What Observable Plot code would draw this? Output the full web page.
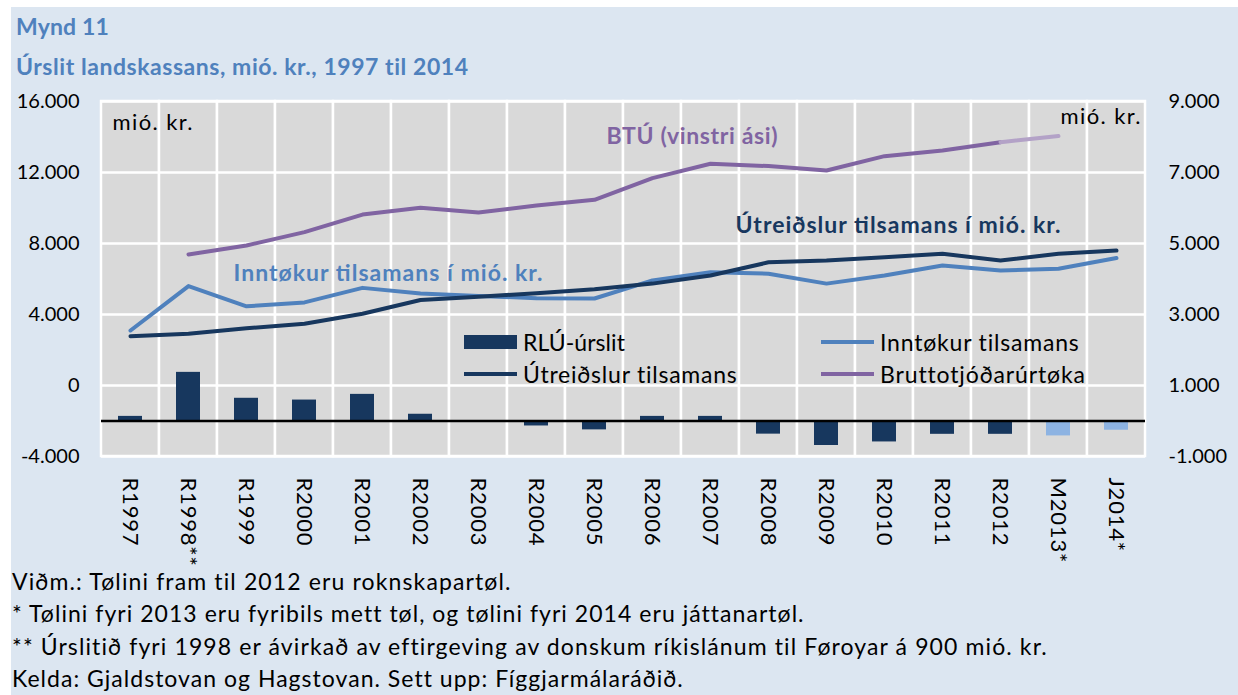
<!DOCTYPE html>
<html><head><meta charset="utf-8">
<script src="https://cdn.jsdelivr.net/npm/d3@7"></script>
<script src="https://cdn.jsdelivr.net/npm/@observablehq/plot@0.6"></script>
<style>
html,body{margin:0;padding:0;background:#fff;overflow:hidden;width:1238px;height:695px;}
#bg{position:absolute;left:11px;top:7px;right:0;bottom:0;background:#dce6f1;}
.t{position:absolute;left:16px;font-family:Lato,sans-serif;font-weight:bold;color:#4f81bd;font-size:23px;white-space:nowrap;line-height:23px;}
#chart{position:absolute;left:0;top:0;}
.fn{position:absolute;left:12px;font-family:Lato,sans-serif;font-size:23px;color:#000;white-space:nowrap;line-height:28px;}
.lg{position:absolute;height:30px;display:flex;align-items:center;font-family:Lato,sans-serif;font-size:23px;color:#000;white-space:nowrap;}
.sw{display:inline-block;margin-right:6px;}
</style></head>
<body>
<div id="bg"></div>
<div class="t" id="t1" style="top:15px">Mynd 11</div>
<div class="t" id="t2" style="top:55px">Úrslit landskassans, mió. kr., 1997 til 2014</div>
<div id="chart"></div>
<div id="legend"></div>
<div id="notes"></div>
<script>
// ---- data ----
const categories = ["R1997","R1998**","R1999","R2000","R2001","R2002","R2003","R2004","R2005","R2006","R2007","R2008","R2009","R2010","R2011","R2012","M2013*","J2014*"];
// RLÚ-úrslit (right axis, mió. kr.)
const rluResult = [130, 1370, 640, 590, 750, 190, 10, -140, -250, 130, 130, -370, -690, -590, -375, -375, -420, -260];
// Inntøkur tilsamans (right axis)
const revenue = [2550, 3800, 3230, 3340, 3750, 3590, 3520, 3460, 3450, 3960, 4190, 4150, 3870, 4100, 4380, 4240, 4290, 4590];
// Útreiðslur tilsamans (right axis)
const expenditure = [2390, 2460, 2610, 2740, 3020, 3410, 3500, 3600, 3710, 3870, 4100, 4470, 4520, 4610, 4710, 4520, 4710, 4800];
// Bruttotjóðarúrtøka (left axis)
const gdp = [null, 7380, 7890, 8640, 9630, 10010, 9750, 10140, 10460, 11680, 12490, 12360, 12110, 12920, 13240, 13710, 14050, null];
const forecastCategories = ["M2013*", "J2014*"];
const gdpLastActual = "R2012";
const leftTicks = [-4000, 0, 4000, 8000, 12000, 16000];
const rightTicks = [-1000, 1000, 3000, 5000, 7000, 9000];
const legendLabels = ["RLÚ-úrslit", "Inntøkur tilsamans", "Útreiðslur tilsamans", "Bruttotjóðarúrtøka"];
const notes = [
  "Viðm.: Tølini fram til 2012 eru roknskapartøl.",
  "* Tølini fyri 2013 eru fyribils mett tøl, og tølini fyri 2014 eru játtanartøl.",
  "** Úrslitið fyri 1998 er ávirkað av eftirgeving av donskum ríkislánum til Føroyar á 900 mió. kr.",
  "Kelda: Gjaldstovan og Hagstovan. Sett upp: Fíggjarmálaráðið."
];

// ---- helpers ----
const toLeft = r => 2 * r - 2000;      // right-axis value -> left-axis scale
const toRight = v => (v + 2000) / 2;
const fmt = d3.formatLocale({decimal: ",", thousands: ".", grouping: [3], currency: ["", ""], minus: "-"}).format(",.0f");
// stretch a text element's letter spacing to a target rendered width (px)
function fitHTML(el, target) {
  el.style.letterSpacing = "0px";
  const w = el.getBoundingClientRect().width;
  const n = Math.max(1, el.textContent.length);
  el.style.letterSpacing = ((target - w) / n) + "px";
}

const C = {navy: "#17375e", blue: "#4f81bd", light: "#8db3e2", purple: "#8064a2", lpurple: "#b3a2c7"};

const rows = categories.map((c, i) => ({cat: c, i, rlu: rluResult[i], inn: revenue[i], utr: expenditure[i], btu: gdp[i], fc: forecastCategories.includes(c)}));
const split = categories.indexOf(gdpLastActual);
const btuMain = rows.filter(d => d.btu != null && d.i <= split);
const btuProj = rows.filter(d => d.btu != null && d.i >= split);

const unitLabel = "mió. kr.";
const btuLabel = "BTÚ (vinstri ási)";
const innLabel = "Inntøkur tilsamans í mió. kr.";
const utrLabel = "Útreiðslur tilsamans í mió. kr.";

const chart = Plot.plot({
  width: 1238, height: 600,
  marginLeft: 101, marginRight: 93, marginTop: 101, marginBottom: 144,
  style: {background: "transparent", fontFamily: "Lato, sans-serif", fontSize: "20px", color: "#000"},
  x: {type: "band", domain: categories, padding: 0, label: null},
  y: {domain: [-4000, 16000], label: null},
  color: {type: "identity"},
  marks: [
    Plot.cell(categories, {x: d => d, fill: "#d9d9d9", stroke: "#fff", strokeWidth: 2.5, inset: 0}),
    Plot.ruleY(leftTicks, {stroke: "#fff", strokeWidth: 2.5}),
    Plot.barY(rows, {x: "cat", y1: () => toLeft(0), y2: d => toLeft(d.rlu), fill: d => d.fc ? C.light : C.navy, insetLeft: 17, insetRight: 17}),
    Plot.ruleY([0], {y: toLeft, stroke: "#000", strokeWidth: 2.5}),
    Plot.line(rows, {x: "cat", y: d => toLeft(d.inn), stroke: C.blue, strokeWidth: 4}),
    Plot.line(rows, {x: "cat", y: d => toLeft(d.utr), stroke: C.navy, strokeWidth: 4}),
    Plot.line(btuMain, {x: "cat", y: "btu", stroke: C.purple, strokeWidth: 4}),
    Plot.line(btuProj, {x: "cat", y: "btu", stroke: C.lpurple, strokeWidth: 4}),
    Plot.axisX({tickRotate: 90, tickSize: 0, tickPadding: 21, fontSize: 22, label: null}),
    Plot.axisY(leftTicks, {anchor: "left", tickSize: 0, tickPadding: 22, tickFormat: fmt, fontSize: 20, label: null}),
    Plot.axisY(rightTicks.map(toLeft), {anchor: "right", tickSize: 0, tickPadding: 23, tickFormat: v => fmt(toRight(v)), fontSize: 20, label: null}),
    Plot.text([unitLabel], {frameAnchor: "top-left", textAnchor: "start", lineAnchor: "middle", dx: 11, dy: 21, fontSize: 22}),
    Plot.text([unitLabel], {frameAnchor: "top-right", textAnchor: "end", lineAnchor: "middle", dx: -5, dy: 15, fontSize: 22}),
    Plot.text([btuLabel], {x: () => "R2005", y: () => 14030, textAnchor: "start", dx: 12, fill: C.purple, fontWeight: "bold", fontSize: 23}),
    Plot.text([innLabel], {x: () => "R1999", y: () => toLeft(4155), textAnchor: "start", dx: -13, fill: C.blue, fontWeight: "bold", fontSize: 23}),
    Plot.text([utrLabel], {x: () => "R2007", y: () => toLeft(5507), textAnchor: "start", dx: 25, fill: C.navy, fontWeight: "bold", fontSize: 23})
  ]
});
document.getElementById("chart").appendChild(chart);
const sv = d3.select(chart);
sv.selectAll('g[aria-label="x-axis tick label"] text').style("letter-spacing", "0.8px");
const svgWidths = new Map([[unitLabel, 80], [btuLabel, 171], [innLabel, 309], [utrLabel, 325]]);
sv.selectAll("text").each(function () {
  const w = svgWidths.get(this.textContent);
  if (w) d3.select(this).attr("textLength", w).attr("lengthAdjust", "spacing");
});

// titles
fitHTML(document.getElementById("t1"), 93);
fitHTML(document.getElementById("t2"), 453);

// legend
const lg = document.getElementById("legend");
const items = [
  {label: legendLabels[0], kind: "bar", color: C.navy, left: 464, top: 327, w: 102},
  {label: legendLabels[1], kind: "line", color: C.blue, left: 821, top: 327, w: 200},
  {label: legendLabels[2], kind: "line", color: C.navy, left: 464, top: 359, w: 215},
  {label: legendLabels[3], kind: "line", color: C.purple, left: 821, top: 359, w: 205}
];
for (const it of items) {
  const d = document.createElement("div");
  d.className = "lg";
  d.style.left = it.left + "px"; d.style.top = it.top + "px";
  const s = document.createElement("span");
  s.className = "sw";
  s.style.width = "53px";
  s.style.height = it.kind === "bar" ? "14px" : "4px";
  s.style.background = it.color;
  const t = document.createElement("span");
  t.textContent = it.label;
  d.appendChild(s);
  d.appendChild(t);
  lg.appendChild(d);
  fitHTML(t, it.w);
}
// notes
const noteWidths = [500, 791, 1036, 671];
const nt = document.getElementById("notes");
notes.forEach((n, i) => {
  const d = document.createElement("div");
  d.className = "fn";
  d.style.top = (566.5 + i * 32.5) + "px";
  d.textContent = n;
  nt.appendChild(d);
  fitHTML(d, noteWidths[i]);
});
</script>
</body></html>
